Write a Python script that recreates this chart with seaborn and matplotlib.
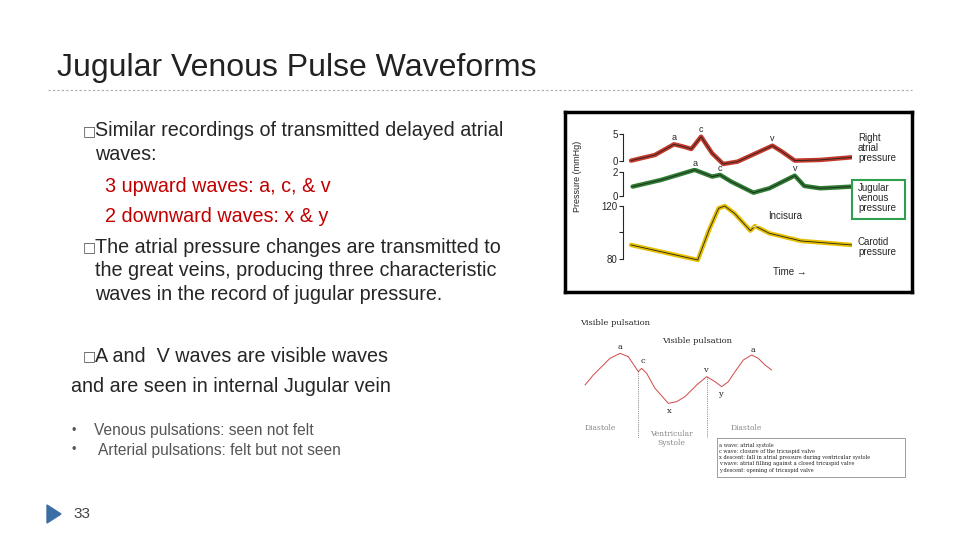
import numpy as np
import matplotlib
matplotlib.use('Agg')
from matplotlib import pyplot as plt
from matplotlib.patches import Rectangle, Polygon
import seaborn as sns

sns.set_style('white')
plt.rcParams['font.family'] = ['Liberation Sans', 'DejaVu Sans']

# top inset traces (time 0-100, pressure mmHg)
ra_t = [0, 10.8, 19.4, 23.7, 27.3, 31.7, 36.7, 41.7, 48.2, 64, 68.3, 74.1, 85.6, 100]
ra_p = [0, 1.06, 3.06, 2.63, 2.19, 4.5, 1.38, -0.63, -0.19, 2.81, 1.69, 0, 0.13, 0.63]
jv_t = [0.7, 13.7, 28.8, 36.7, 40.3, 45.3, 55.4, 62.6, 74.1, 78.4, 85.6, 100]
jv_p = [0.77, 1.32, 2.14, 1.59, 1.73, 1.18, 0.27, 0.63, 1.67, 0.82, 0.63, 0.77]
ca_t = [0, 30.2, 35.3, 39.6, 42.4, 46.8, 54, 56.1, 62.6, 77, 100]
ca_p = [90.5, 79.25, 101.75, 118, 119.75, 114.25, 101.25, 104.75, 99.25, 93.5, 90.5]

# bottom inset waveform (schematic units)
jvp_x = [30, 55, 80, 105, 135, 160, 180, 190, 200, 215, 240, 280, 305, 330, 365, 395, 420, 440, 460, 480, 505, 530, 550, 570, 590]
jvp_y = [225, 195, 170, 145, 130, 140, 170, 185, 175, 190, 235, 280, 275, 260, 225, 200, 215, 230, 215, 185, 150, 135, 145, 165, 180]

W, H = 960, 540
fig = plt.figure(figsize=(9.6, 5.4), dpi=100)


def px(x, y):
    return x / W, 1 - y / H


def txt(x, y, s, **kw):
    fig.text(*px(x, y), s, **kw)


def box(x0, y0, x1, y1):
    return [x0 / W, 1 - y1 / H, (x1 - x0) / W, (y1 - y0) / H]


txt(57, 68, 'Jugular Venous Pulse Waveforms', fontsize=23, color='#222222', va='center')
fig.lines.append(plt.Line2D([48 / W, 912 / W], [1 - 90 / H] * 2, transform=fig.transFigure,
                            color='#aaaaaa', lw=0.8, ls=(0, (2, 2))))

fs = 14.2
sq = dict(fontsize=10, color='#555555', va='center', family=['DejaVu Sans'])
txt(83, 131, '\u25a1', **sq)
txt(95, 131, 'Similar recordings of transmitted delayed atrial', fontsize=fs, va='center')
txt(95, 155, 'waves:', fontsize=fs, va='center')
txt(105, 186, '3 upward waves: a, c, & v', fontsize=fs, va='center', color='#c00000')
txt(105, 216, '2 downward waves: x & y', fontsize=fs, va='center', color='#c00000')
txt(83, 247, '\u25a1', **sq)
txt(95, 247, 'The atrial pressure changes are transmitted to', fontsize=fs, va='center')
txt(95, 271, 'the great veins, producing three characteristic', fontsize=fs, va='center')
txt(95, 295, 'waves in the record of jugular pressure.', fontsize=fs, va='center')
txt(83, 356, '\u25a1', **sq)
txt(95, 356, 'A and  V waves are visible waves', fontsize=fs, va='center')
txt(71, 386, 'and are seen in internal Jugular vein', fontsize=fs, va='center')
txt(72, 431, '\u2022', fontsize=9, va='center', color='#555555')
txt(94, 431, 'Venous pulsations: seen not felt', fontsize=11.2, va='center', color='#555555')
txt(72, 450, '\u2022', fontsize=9, va='center', color='#555555')
txt(98, 450, 'Arterial pulsations: felt but not seen', fontsize=11.2, va='center', color='#555555')
fig.patches.append(Polygon([px(47, 505), px(47, 523), px(61, 514)], closed=True,
                           transform=fig.transFigure, color='#3b6ea5'))
txt(73, 514, '33', fontsize=11, va='center', color='#444444')

# top inset frame
frame = fig.add_axes(box(565, 112, 912, 292))
frame.set_xticks([]); frame.set_yticks([])
for s in frame.spines.values():
    s.set_linewidth(2.5)
    s.set_color('black')


def trace(rect, t, p, ylim, col, ticks):
    ax = fig.add_axes(rect)
    ax.patch.set_alpha(0)
    sns.lineplot(x=t, y=p, ax=ax, color=col, lw=3.2)
    sns.lineplot(x=t, y=p, ax=ax, color='#222222', lw=0.6)
    ax.set_xlim(-5, 100)
    ax.set_ylim(*ylim)
    for s in ['top', 'right', 'bottom']:
        ax.spines[s].set_visible(False)
    ax.spines['left'].set_position(('data', -3.6))
    ax.spines['left'].set_bounds(ticks[0], ticks[-1])
    ax.spines['left'].set_linewidth(0.8)
    ax.set_xticks([])
    ax.set_yticks(ticks)
    ax.tick_params(axis='y', length=3, labelsize=7, pad=1, left=True)
    return ax


ax_ra = trace(box(620, 130, 852, 168.3), ra_t, ra_p, (-1.44, 5.75), '#c0392b', [0, 5])
ax_jv = trace(box(620, 168.3, 852, 200), jv_t, jv_p, (-0.33, 2.27), '#2e7d32', [0, 2])
ax_ca = trace(box(620, 200, 852, 263.3), ca_t, ca_p, (76.75, 124.25), '#e6c000', [80, 100, 120])
ax_ca.set_yticklabels(['80', '', '120'])
for ax, lab, i in [(ax_ra, 'a', 2), (ax_ra, 'c', 5), (ax_ra, 'v', 9)]:
    ax.text(ra_t[i], ra_p[i] + 0.9, lab, fontsize=6.5, ha='center')
for lab, i in [('a', 2), ('c', 4), ('v', 8)]:
    ax_jv.text(jv_t[i], jv_p[i] + 0.35, lab, fontsize=6.5, ha='center')
ax_ca.annotate('Incisura', xy=(ca_t[6], ca_p[6] + 2), xytext=(62, 110), fontsize=7,
               arrowprops=dict(arrowstyle='-', lw=0.6))
txt(577, 176, 'Pressure (mmHg)', fontsize=6.5, rotation=90, ha='center', va='center')
txt(773, 272, 'Time \u2192', fontsize=7, va='center')
txt(858, 133, 'Right\natrial\npressure', fontsize=7, va='top', linespacing=1.0)
txt(858, 183, 'Jugular\nvenous\npressure', fontsize=7, va='top', linespacing=1.0)
fig.patches.append(Rectangle(px(852, 219), 53 / W, 39 / H, transform=fig.transFigure,
                             fill=False, ec='#2e9e4f', lw=1.5))
txt(858, 237, 'Carotid\npressure', fontsize=7, va='top', linespacing=1.0)

# bottom inset
ax2 = fig.add_axes(box(575, 310, 910, 480))
ax2.patch.set_alpha(0)
sns.lineplot(x=jvp_x, y=jvp_y, ax=ax2, color='#d04848', lw=0.7)
ax2.set_xlim(0, 1005)
ax2.set_ylim(510, 0)
ax2.axis('off')
ser = dict(family=['DejaVu Serif'], fontsize=6)
ax2.text(15, 45, 'Visible pulsation', **ser)
ax2.annotate('', xy=(135, 110), xytext=(135, 60), arrowprops=dict(arrowstyle='->', lw=0.5))
ax2.text(260, 100, 'Visible pulsation', **ser)
ax2.annotate('', xy=(390, 165), xytext=(380, 110), arrowprops=dict(arrowstyle='->', lw=0.5))
for s, x, y in [('a', 135, 118), ('c', 205, 160), ('v', 390, 185), ('x', 282, 310),
                ('y', 437, 258), ('a', 535, 125)]:
    ax2.text(x, y, s, ha='center', **ser)
ax2.plot([188, 188], [185, 385], color='#333333', lw=0.5, ls=':')
ax2.plot([397, 397], [200, 385], color='#333333', lw=0.5, ls=':')
gs = dict(family=['DejaVu Serif'], fontsize=5.5, color='#888888', ha='center')
ax2.text(75, 360, 'Diastole', **gs)
ax2.text(290, 360, 'Ventricular\nSystole', va='top', linespacing=1.1, **gs)
ax2.text(515, 360, 'Diastole', **gs)
ax2.add_patch(Rectangle((425, 385), 565, 115, fill=False, ec='#777777', lw=0.5))
legend_lines = ['a wave: atrial systole', 'c wave: closure of the tricuspid valve',
                'x descent: fall in atrial pressure during ventricular systole',
                'v wave: atrial filling against a closed tricuspid valve',
                'y descent: opening of tricuspid valve']
for i, s in enumerate(legend_lines):
    ax2.text(432, 405 + i * 19, s, family=['DejaVu Serif'], fontsize=3.6, va='center')

fig.savefig('out.png', dpi=100)
